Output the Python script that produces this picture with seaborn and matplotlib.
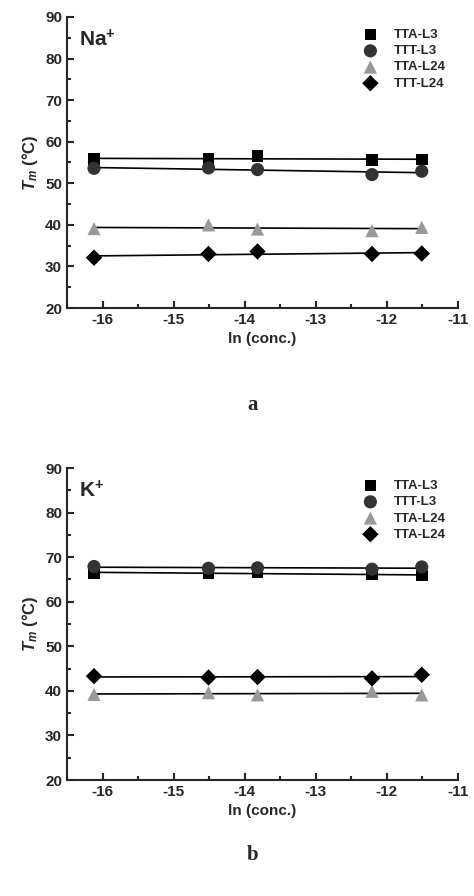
import numpy as np
import pandas as pd
import seaborn as sns
import matplotlib.pyplot as plt
from matplotlib.ticker import MultipleLocator

sns.set_theme(style="ticks")
plt.rcParams['font.family'] = ['Liberation Sans', 'DejaVu Sans']
plt.rcParams['axes.unicode_minus'] = False
plt.rcParams['mathtext.fontset'] = 'custom'
plt.rcParams['mathtext.it'] = 'Liberation Sans:italic:bold'
plt.rcParams['mathtext.rm'] = 'Liberation Sans:bold'

x = [-16.12, -14.51, -13.82, -12.21, -11.51]
na_tta_l3 = [55.8, 55.8, 56.5, 55.6, 55.7]
na_ttt_l3 = [53.6, 53.7, 53.3, 52.1, 52.9]
na_tta_l24 = [39.1, 40.0, 39.0, 38.6, 39.4]
na_ttt_l24 = [32.1, 33.0, 33.6, 33.0, 33.1]
k_tta_l3 = [66.5, 66.3, 66.6, 66.1, 65.9]
k_ttt_l3 = [67.9, 67.5, 67.6, 67.3, 67.8]
k_tta_l24 = [39.2, 39.6, 39.1, 39.9, 39.1]
k_d_l24 = [43.3, 43.0, 43.1, 42.8, 43.6]

labels_na = ["TTA-L3", "TTT-L3", "TTA-L24", "TTT-L24"]
labels_k = ["TTA-L3", "TTT-L3", "TTA-L24", "TTA-L24"]
markers = ["s", "o", "^", "D"]
colors = ["#000000", "#333333", "#999999", "#000000"]
sizes = [70, 90, 90, 70]

fig = plt.figure(figsize=(4.74, 8.96), dpi=100)
ax1 = fig.add_axes([67/474, (896-308)/896, (458-67)/474, 291/896])
ax2 = fig.add_axes([67/474, (896-780)/896, (458-67)/474, 312/896])

def draw(ax, series, labels, ion):
    for s, lab, m, c, sz in zip(series, labels, markers, colors, sizes):
        df = pd.DataFrame({"x": x, "y": s})
        sns.scatterplot(data=df, x="x", y="y", marker=m, color=c, s=sz,
                        edgecolor="none", ax=ax, label=lab, zorder=3)
        p = np.polyfit(x, s, 1)
        xx = np.array([x[0], x[-1]])
        ax.plot(xx, np.polyval(p, xx), color="black", lw=1.2, zorder=2)
    ax.set_xlim(-16.5, -11)
    ax.set_ylim(20, 90)
    ax.xaxis.set_major_locator(MultipleLocator(1))
    ax.xaxis.set_minor_locator(MultipleLocator(0.5))
    ax.yaxis.set_major_locator(MultipleLocator(10))
    ax.yaxis.set_minor_locator(MultipleLocator(5))
    ax.tick_params(which="both", direction="in", width=1.5)
    ax.tick_params(which="major", length=5, labelsize=11)
    ax.tick_params(which="minor", length=3)
    for lbl in ax.get_xticklabels() + ax.get_yticklabels():
        lbl.set_fontweight("bold")
    for sp in ax.spines.values():
        sp.set_linewidth(1.5)
    ax.spines["top"].set_visible(False)
    ax.spines["right"].set_visible(False)
    ax.set_xlabel("ln (conc.)", fontweight="bold", fontsize=11)
    ax.set_ylabel("$T_m$ (°C)", fontweight="bold", fontsize=12)
    ax.text(0.03, 0.96, ion, transform=ax.transAxes, fontsize=15,
            fontweight="bold", va="top")
    leg = ax.legend(loc="upper right", frameon=False, fontsize=9.5,
                    handletextpad=0.8, labelspacing=0.3)
    for t in leg.get_texts():
        t.set_fontweight("bold")

draw(ax1, [na_tta_l3, na_ttt_l3, na_tta_l24, na_ttt_l24], labels_na, "Na$^{+}$")
draw(ax2, [k_tta_l3, k_ttt_l3, k_tta_l24, k_d_l24], labels_k, "K$^{+}$")

fig.text(253/474, 1-405/896, "a", fontsize=15, fontweight="bold",
         family="Liberation Serif", ha="center", va="center")
fig.text(253/474, 1-855/896, "b", fontsize=15, fontweight="bold",
         family="Liberation Serif", ha="center", va="center")

fig.savefig("out.png", dpi=100)
